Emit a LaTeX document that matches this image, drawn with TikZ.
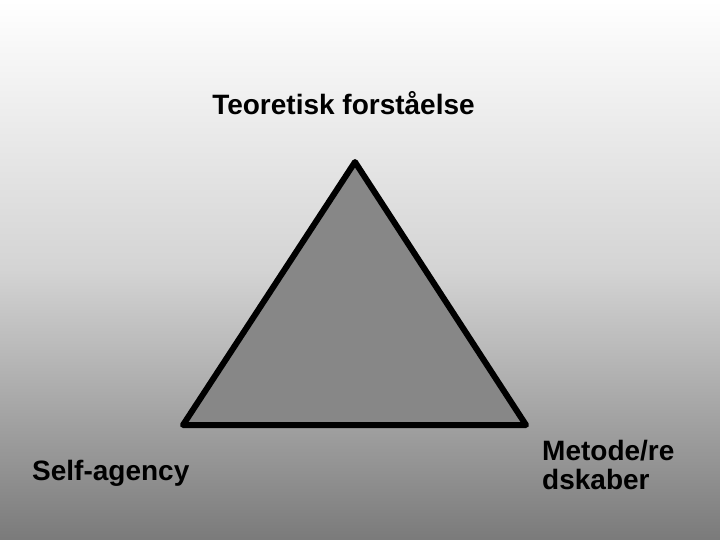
\documentclass[tikz,border=0pt]{standalone}
\usepackage{fontspec}
\setmainfont{Liberation Sans}
\usetikzlibrary{positioning}

\begin{document}
\begin{tikzpicture}[x=1pt, y=-1pt,
    lbl/.style={inner sep=0pt, font=\bfseries\fontsize{28}{29}\selectfont, text=black}]
        \useasboundingbox (0,0) rectangle (720,540);
        \shade[top color=white, bottom color=black!52, middle color=black!17] (0,0) rectangle (720,540);

        \coordinate (apex) at (355,162);
        \coordinate (bl) at (183,425);
        \coordinate (br) at (526,425);
        \draw[line width=6pt, line join=round, fill=black!47] (apex) -- (bl) -- (br) -- cycle;

        \node[lbl, anchor=base] (theory) at (343.5,115) {Teoretisk forståelse};
        \node[lbl, anchor=base west] (self) at (32,480) {Self-agency};
        \node[lbl, anchor=north west, align=left] (method) at (542,440) {Metode/re\\dskaber};
      \end{tikzpicture}
\end{document}
